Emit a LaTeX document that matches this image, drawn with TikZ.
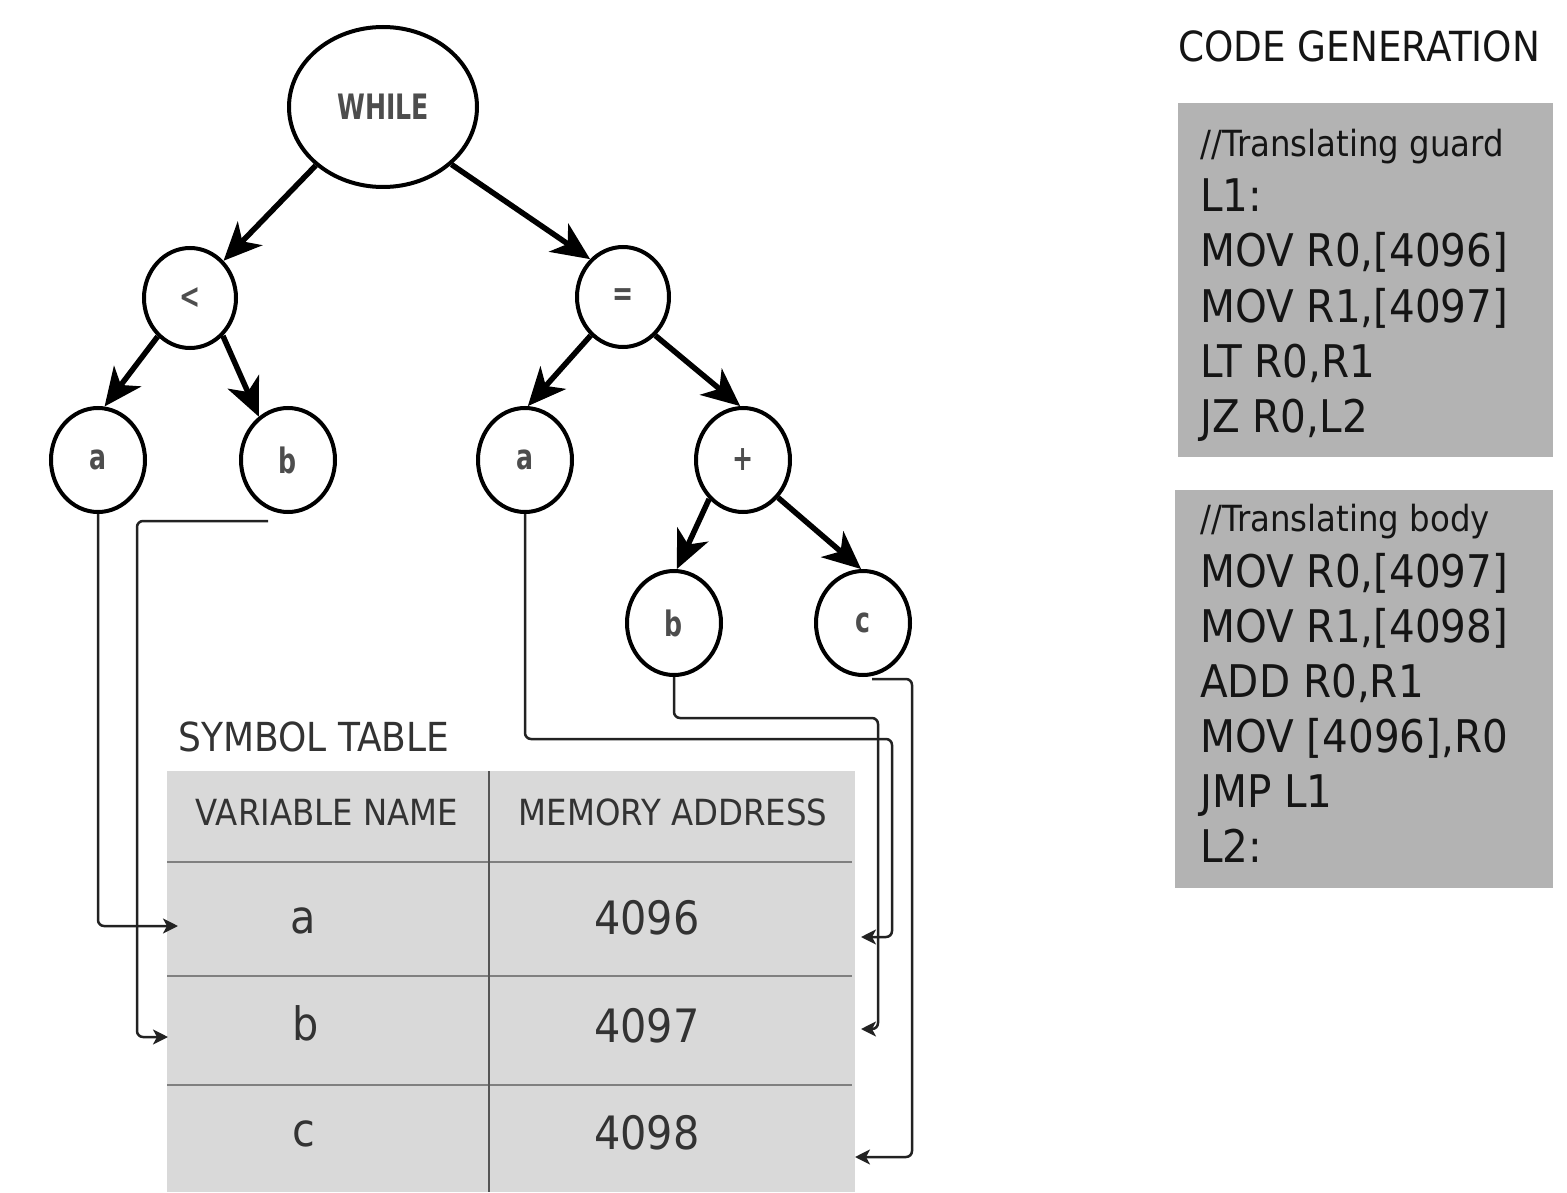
\documentclass[tikz,border=0pt]{standalone}
\usepackage{fontspec}
\usetikzlibrary{shapes.geometric,arrows.meta}
\newfontfamily\cond[FakeStretch=0.9]{DejaVu Sans}
\definecolor{labelgray}{HTML}{4D4D4D}
\definecolor{tablefill}{HTML}{D9D9D9}
\definecolor{ruleline}{HTML}{808080}
\definecolor{colrule}{HTML}{555555}
\definecolor{codefill}{HTML}{B3B3B3}
\definecolor{ink}{HTML}{151515}
\definecolor{linkgray}{HTML}{222222}
\definecolor{headtext}{HTML}{333333}
\newcommand{\fs}[1]{\fontsize{#1}{#1}\selectfont}
\newcommand{\lbl}[1]{\scalebox{1}[1.25]{#1}}

\begin{document}
\begin{tikzpicture}[x=1pt,y=-1pt,
  tnode/.style={ellipse, draw, line width=4pt, inner sep=0pt,
    minimum width=94pt, minimum height=104pt, text=labelgray,
    font=\cond\bfseries\fs{28}},
  treearrow/.style={line width=5.5pt, -{Stealth[length=38pt,width=34pt,inset=11pt]}},
  link/.style={line width=2.5pt, draw=linkgray, rounded corners=6pt,
    -{Stealth[length=15pt,width=15pt,inset=4pt]}},
  codeline/.style={anchor=base west, inner sep=0pt, text=ink, font=\cond\fs{45}},
  codecomment/.style={codeline, font=\cond\fs{36}},
  valcell/.style={anchor=base, inner sep=0pt, text=headtext, font=\cond\fs{46}},
  headcell/.style={anchor=center, inner sep=0pt, text=headtext, font=\cond\fs{36}},
  titletext/.style={anchor=base west, inner sep=0pt, text=ink, font=\cond\fs{41.5}},
]
\useasboundingbox (0,0) rectangle (1567,1193);

% ---------- syntax tree ----------
\node[tnode, minimum width=188pt, minimum height=160pt] (while) at (383,107) {\lbl{WHILE}};
\node[tnode, minimum width=92pt, minimum height=100pt] (lt) at (190,298) {\lbl{<}};
\node[tnode, minimum width=92pt, minimum height=100pt] (eq) at (623,297) {\lbl{=}};
\node[tnode] (a1) at (98,460) {\lbl{a}};
\node[tnode] (b1) at (288,460) {\lbl{b}};
\node[tnode] (a2) at (525,460) {\lbl{a}};
\node[tnode] (plus) at (743,460) {\lbl{+}};
\node[tnode] (b2) at (674,623) {\lbl{b}};
\node[tnode] (c) at (863,623) {\lbl{c}};

\draw[treearrow] (while.221) -- (lt.48);
\draw[treearrow] (while.-40) -- (eq.131);
\draw[treearrow] (lt.230) -- (a1.83);
\draw[treearrow] (lt.-49) -- (b1.124);
\draw[treearrow] (eq.230) -- (a2.87);
\draw[treearrow] (eq.-50) -- (plus.93);
\draw[treearrow] (plus.229) -- (b2.87);
\draw[treearrow] (plus.-47) -- (c.92);

% ---------- symbol table ----------
\node[titletext, text=headtext, font=\cond\fs{40}] (symtitle) at (178,751) {SYMBOL TABLE};
\fill[tablefill] (167,771) rectangle (855,1192);
\foreach \yy in {862,976,1085}
  \draw[ruleline, line width=2pt] (167,\yy) -- (852,\yy);
\draw[colrule, line width=2pt] (489,771) -- (489,1192);

\node[headcell] (hname) at (327,812) {VARIABLE NAME};
\node[headcell] (haddr) at (673,812) {MEMORY ADDRESS};
\node[valcell] (va) at (303,933) {a};
\node[valcell] (vb) at (306,1040) {b};
\node[valcell] (vc) at (304,1146) {c};
\node[valcell] (ma) at (647,934) {4096};
\node[valcell] (mb) at (647,1042) {4097};
\node[valcell] (mc) at (647,1149) {4098};

% ---------- links from tree leaves to table rows ----------
\coordinate (ta) at (178,926);
\coordinate (b1out) at (268,521);
\coordinate (tb) at (168,1037);
\coordinate (ta2) at (861,937);
\coordinate (tb2) at (861,1029);
\coordinate (cout) at (872,679);
\coordinate (tc) at (855,1157);

\draw[link] (a1.south) |- (ta);
\draw[link] (b1out) -- ++(-131,0) |- (tb);
\draw[link] (a2.south) |- (892,739) |- (ta2);
\draw[link] (b2.south) |- (878,718) |- (tb2);
\draw[link] (cout) -| (912,1157) -- (tc);

% ---------- generated code ----------
\node[titletext] (cgtitle) at (1178,62) {CODE GENERATION};
\fill[codefill] (1178,103) rectangle (1553,457);
\fill[codefill] (1175,490) rectangle (1553,888);

\node[codecomment] (g0) at (1200,157) {//Translating guard};
\node[codeline] (g1) at (1200,212) {L1:};
\node[codeline] (g2) at (1200,267) {MOV R0,[4096]};
\node[codeline] (g3) at (1200,322) {MOV R1,[4097]};
\node[codeline] (g4) at (1200,377) {LT R0,R1};
\node[codeline] (g5) at (1200,432) {JZ R0,L2};

\node[codecomment] (k0) at (1200,531) {//Translating body};
\node[codeline] (k1) at (1200,587) {MOV R0,[4097]};
\node[codeline] (k2) at (1200,642) {MOV R1,[4098]};
\node[codeline] (k3) at (1200,697) {ADD R0,R1};
\node[codeline] (k4) at (1200,752) {MOV [4096],R0};
\node[codeline] (k5) at (1200,807) {JMP L1};
\node[codeline] (k6) at (1200,862) {L2:};
\end{tikzpicture}
\end{document}
